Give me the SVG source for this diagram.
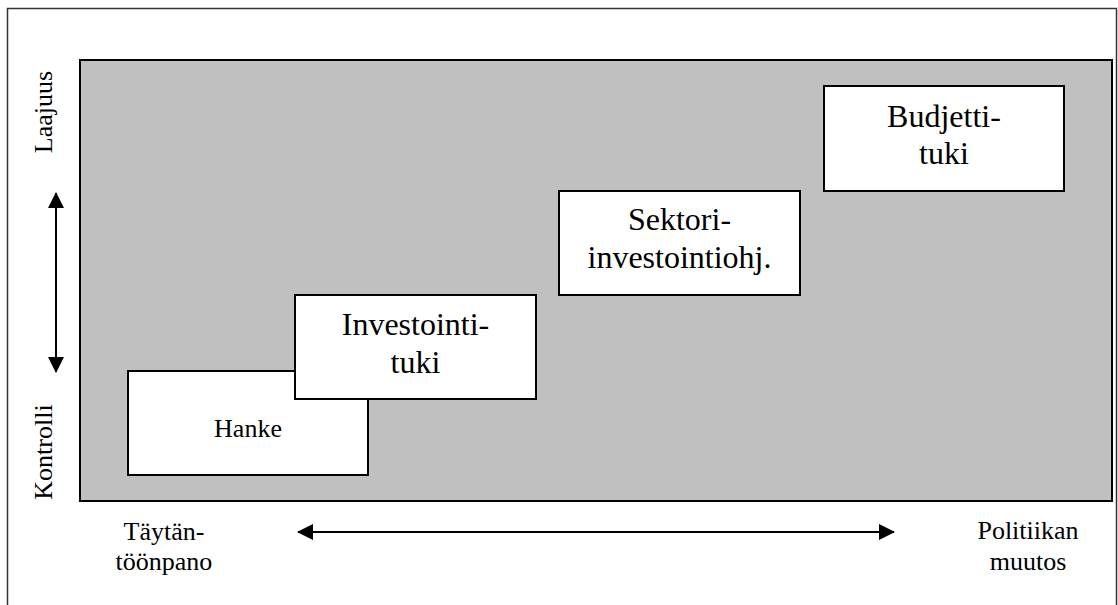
<svg xmlns="http://www.w3.org/2000/svg" width="1118" height="605" viewBox="0 0 1118 605">
<style>
.box{fill:#ffffff;stroke:#000000;stroke-width:2}
text{font-family:'Liberation Serif','Times New Roman','DejaVu Serif',serif;fill:#000;text-anchor:middle}
.big{font-size:32px}
.small{font-size:26px}
.conn{stroke:#000;stroke-width:2;fill:none}
</style>
<defs>
<marker id="ah" viewBox="0 0 16 16" refX="15" refY="8" markerWidth="16" markerHeight="16" markerUnits="userSpaceOnUse" orient="auto-start-reverse">
<path d="M0,0 L16,8 L0,16 Z" fill="#000"/>
</marker>
</defs>
<rect x="0" y="0" width="1118" height="605" fill="#ffffff"/>
<rect x="7.5" y="8.5" width="1109" height="610" fill="none" stroke="#333" stroke-width="1.5"/>
<rect id="field" x="80" y="60" width="1032" height="441" fill="#c0c0c0" stroke="#000" stroke-width="2"/>
<g id="axis-labels" font-family="Liberation Serif, serif">
<text class="small" transform="translate(52,112) rotate(-90)">Laajuus</text>
<text class="small" transform="translate(52,452) rotate(-90)">Kontrolli</text>
<text class="small" x="164" y="540">Täytän-</text>
<text class="small" x="164" y="570">töönpano</text>
<text class="small" x="1028" y="539">Politiikan</text>
<text class="small" x="1028" y="570">muutos</text>
</g>
<g id="connectors">
<line class="conn" x1="56" y1="193" x2="56" y2="372" marker-start="url(#ah)" marker-end="url(#ah)"/>
<line class="conn" x1="298" y1="532" x2="894" y2="532" marker-start="url(#ah)" marker-end="url(#ah)"/>
</g>
<g id="hanke">
<rect class="box" x="128" y="371" width="240" height="104"/>
<text class="small" x="248" y="437">Hanke</text>
</g>
<g id="investointituki">
<rect class="box" x="295" y="295" width="241" height="104"/>
<text class="big" x="415.5" y="335">Investointi-</text>
<text class="big" x="415.5" y="373">tuki</text>
</g>
<g id="sektori">
<rect class="box" x="559" y="191" width="241" height="104"/>
<text class="big" x="679.5" y="230">Sektori-</text>
<text class="big" x="679.5" y="268">investointiohj.</text>
</g>
<g id="budjettituki">
<rect class="box" x="824" y="86" width="240" height="105"/>
<text class="big" x="944" y="127">Budjetti-</text>
<text class="big" x="944" y="164">tuki</text>
</g>
</svg>
